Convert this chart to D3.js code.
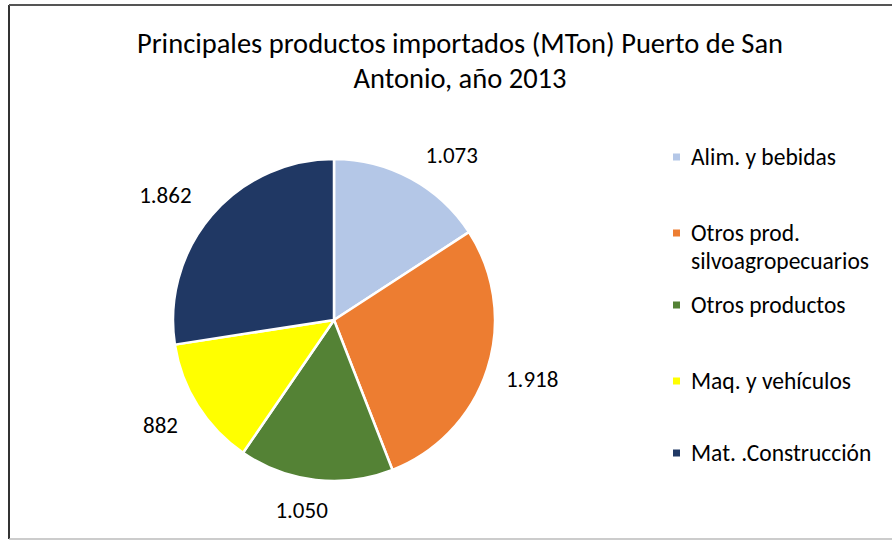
<!DOCTYPE html>
<html>
<head>
<meta charset="utf-8">
<script src="https://cdn.jsdelivr.net/npm/d3@7"></script>
<style>
  html, body { margin: 0; padding: 0; background: #fff; }
  svg { display: block; font-family: Carlito, Calibri, Lato, "Open Sans", sans-serif; }
</style>
</head>
<body>
<svg id="chart" width="892" height="540"></svg>
<script>
// Imported products, Puerto de San Antonio 2013 (thousand tons)
const categories = ["Alim. y bebidas", "Otros prod. silvoagropecuarios", "Otros productos", "Maq. y vehículos", "Mat. .Construcción"];
const legendLines = [["Alim. y bebidas"], ["Otros prod.", "silvoagropecuarios"], ["Otros productos"], ["Maq. y vehículos"], ["Mat. .Construcción"]];
const values = [1073, 1918, 1050, 882, 1862];
const colors = ["#B4C7E7", "#ED7D31", "#548235", "#FFFF00", "#203864"];
const titleLines = ["Principales productos importados (MTon) Puerto de San", "Antonio, año 2013"];

const W = 892, H = 540;
const svg = d3.select("#chart");

// Frame
svg.append("line").attr("x1", 9).attr("y1", 5).attr("x2", 9).attr("y2", 539)
  .attr("stroke", "#333").attr("stroke-width", 2);
svg.append("line").attr("x1", 9).attr("y1", 5).attr("x2", W).attr("y2", 5)
  .attr("stroke", "#555").attr("stroke-width", 2);
svg.append("line").attr("x1", 9).attr("y1", 539).attr("x2", W).attr("y2", 539)
  .attr("stroke", "#bbb").attr("stroke-width", 1.5);

// Title
svg.append("g").selectAll("text").data(titleLines).join("text")
  .attr("x", 460).attr("y", (d, i) => 43 + i * 35)
  .attr("dy", "0.35em")
  .attr("text-anchor", "middle")
  .attr("font-size", 28.5)
  .attr("fill", "#000")
  .text(d => d);

// Pie
const cx = 334, cy = 320, R = 161;
const pie = d3.pie().sort(null).value(d => d);
const arcs = pie(values);
const arc = d3.arc().innerRadius(0).outerRadius(R);
const g = svg.append("g").attr("transform", `translate(${cx},${cy})`);
g.selectAll("path").data(arcs).join("path")
  .attr("d", arc)
  .attr("fill", (d, i) => colors[i])
  .attr("stroke", "#fff")
  .attr("stroke-width", 2.5)
  .attr("stroke-linejoin", "round");

// Value labels, outside end with small per-label adjustments
const labelArc = d3.arc().innerRadius(205).outerRadius(205);
const labelNudge = [[20, 15], [3, -4], [-9, -14], [0, -4], [-13, 8]];
const fmt = v => d3.format(",")(v).replace(/,/g, ".");
g.selectAll("text").data(arcs).join("text")
  .attr("transform", (d, i) => {
    const c = labelArc.centroid({ startAngle: d.startAngle, endAngle: d.endAngle });
    return `translate(${c[0] + labelNudge[i][0]},${c[1] + labelNudge[i][1]})`;
  })
  .attr("dy", "0.35em")
  .attr("text-anchor", "middle")
  .attr("font-size", 23)
  .attr("fill", "#000")
  .text(d => fmt(d.value));

// Legend
const legendY = [157, 233, 305, 381, 453];
const leg = svg.append("g");
const items = leg.selectAll("g").data(categories).join("g")
  .attr("transform", (d, i) => `translate(673,${legendY[i]})`);
items.append("rect")
  .attr("x", 0).attr("y", -3.5).attr("width", 7).attr("height", 7)
  .attr("fill", (d, i) => colors[i]);
items.each(function (d, i) {
  d3.select(this).selectAll("text").data(legendLines[i]).join("text")
    .attr("x", 18).attr("y", (t, j) => j * 28)
    .attr("dy", "0.35em")
    .attr("font-size", 23.5)
    .attr("fill", "#000")
    .text(t => t);
});
</script>
</body>
</html>
